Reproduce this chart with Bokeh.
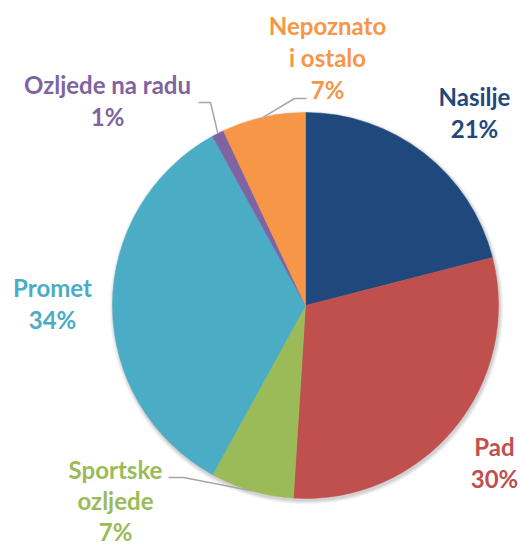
import math
from bokeh.plotting import figure
from bokeh.models import Range1d
from bokeh.core.properties import value
from bokeh.embed import file_html
from bokeh.resources import INLINE

# ---- data ----
categories = ["Nasilje", "Pad", "Sportske ozljede", "Promet", "Ozljede na radu", "Nepoznato i ostalo"]
percents = [21, 30, 7, 34, 1, 7]
label_lines = [["Nasilje"], ["Pad"], ["Sportske", "ozljede"], ["Promet"], ["Ozljede na radu"], ["Nepoznato", "i ostalo"]]
colors = ["#1F497D", "#C0504D", "#9BBB59", "#4BACC6", "#8064A2", "#F79646"]

# ---- layout (page pixel coordinates) ----
W, H = 520, 545
def Y(py):
    return H - py

cx, cy, R = 305, Y(305), 193
label_pos = [(474, 96), (494, 446), (115, 469), (52, 287), (107, 84), (327, 25)]
line_gaps = [32, 32, 31, 32, 32, 32]
leader = {2: (183, 168, 477), 4: (210, 198, 102), 5: (294, 306, 98)}  # elbow x, end x, y

p = figure(width=W, height=H, output_backend="svg", toolbar_location=None,
           x_range=Range1d(0, W), y_range=Range1d(0, H),
           min_border=0, outline_line_color=None, background_fill_color="white")
p.axis.visible = False
p.grid.visible = False

# soft shadow
for dr, a in [(4, 0.03), (3, 0.04), (2, 0.05), (1, 0.06)]:
    p.circle(x=[cx + 1], y=[cy - 2], radius=R + dr, fill_color="black", fill_alpha=a, line_color=None)

total = sum(percents)
cum = 0.0
mids = []
for i, v in enumerate(percents):
    f0 = cum / total
    f1 = (cum + v) / total
    cum += v
    mids.append((f0 + f1) / 2)
    p.wedge(x=[cx], y=[cy], radius=R,
            start_angle=math.pi / 2 - 2 * math.pi * f0,
            end_angle=math.pi / 2 - 2 * math.pi * f1,
            direction="clock", fill_color=colors[i], line_color=colors[i], line_width=0.5)

# leader lines
for i, (ex, sx, ly) in leader.items():
    ang = 2 * math.pi * mids[i]
    px = cx + R * math.sin(ang)
    py = cy + R * math.cos(ang)
    p.line(x=[sx, ex, px], y=[Y(ly), Y(ly), py], line_color="#A6A6A6", line_width=1.5)

# labels
for i, lines in enumerate(label_lines):
    lx, ly = label_pos[i]
    texts = lines + [f"{percents[i]}%"]
    p.text(x=[lx] * len(texts), y=[Y(ly + k * line_gaps[i]) for k in range(len(texts))], text=texts,
           text_align="center", text_baseline="middle", text_font=value("Lato"),
           text_font_style="bold", text_font_size="24px", text_color=colors[i])

open("out.html", "w").write(file_html(p, INLINE))
